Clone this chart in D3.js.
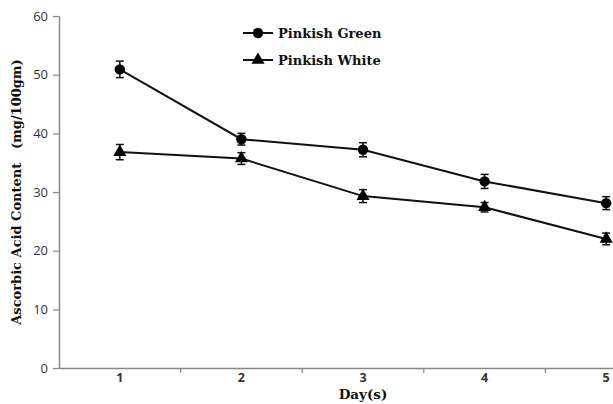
<!DOCTYPE html>
<html><head><meta charset="utf-8">
<script src="https://cdn.jsdelivr.net/npm/d3@7"></script>
<style>body{margin:0;background:#fff}</style>
</head><body>
<svg id="c" width="613" height="404"></svg>
<script>
const days = [1, 2, 3, 4, 5];
const seriesNames = ["Pinkish Green", "Pinkish White"];
const greenValues = [50.9, 39.0, 37.2, 31.8, 28.1];
const greenErrors = [1.4, 1.0, 1.2, 1.2, 1.1];
const whiteValues = [36.8, 35.7, 29.3, 27.4, 22.0];
const whiteErrors = [1.3, 1.0, 1.1, 0.8, 1.0];
const yTicks = [0, 10, 20, 30, 40, 50, 60];

(function () {
const svg = d3.select("#c");
const mLeft = 59, mTop = 16, mBottom = 368, mRight = 667;
const x = d3.scaleBand().domain(days).range([mLeft, mRight]);
const y = d3.scaleLinear().domain([0, 60]).range([mBottom, mTop]);
const axisColor = "#888";
const serif = "DejaVu Serif, serif";

// Y axis
const ya = svg.append("g").attr("transform", `translate(${mLeft},0)`)
  .call(d3.axisLeft(y).tickValues(yTicks).tickSize(6).tickPadding(5).tickSizeOuter(0));
ya.select(".domain").attr("stroke", axisColor).attr("stroke-width", 1.5);
ya.selectAll(".tick line").attr("stroke", axisColor).attr("stroke-width", 1.2);
ya.selectAll(".tick text").attr("font-family", "Open Sans, sans-serif").attr("font-size", 13).attr("fill", "#333");

// X axis
const xa = svg.append("g").attr("transform", `translate(0,${mBottom})`)
  .call(d3.axisBottom(x).tickSize(0).tickPadding(5));
xa.select(".domain").attr("stroke", axisColor).attr("stroke-width", 1.5);
xa.selectAll(".tick text").attr("font-family", "Open Sans, sans-serif").attr("font-size", 12.5).attr("fill", "#333").attr("font-weight", "bold");
xa.selectAll(".btick").data(days.slice(1)).enter().append("line")
  .attr("x1", d => x(d)).attr("x2", d => x(d)).attr("y1", 0).attr("y2", 5)
  .attr("stroke", axisColor).attr("stroke-width", 1.2);

const cx = d => x(d) + x.bandwidth() / 2;

function drawSeries(vals, errs, shape) {
  const g = svg.append("g");
  const line = d3.line().x((d, i) => cx(days[i])).y(d => y(d));
  g.append("path").attr("d", line(vals)).attr("fill", "none").attr("stroke", "#111").attr("stroke-width", 2);
  vals.forEach((v, i) => {
    const px = cx(days[i]);
    const e = errs[i];
    g.append("line").attr("x1", px).attr("x2", px).attr("y1", y(v + e)).attr("y2", y(v - e)).attr("stroke", "#111").attr("stroke-width", 1.5);
    [v + e, v - e].forEach(w => g.append("line").attr("x1", px - 4).attr("x2", px + 4).attr("y1", y(w)).attr("y2", y(w)).attr("stroke", "#111").attr("stroke-width", 1.5));
    g.append("path").attr("transform", `translate(${px},${y(v)})`)
      .attr("d", d3.symbol().type(shape).size(shape === d3.symbolCircle ? 85 : 75)()).attr("fill", "#000");
  });
}
drawSeries(greenValues, greenErrors, d3.symbolCircle);
drawSeries(whiteValues, whiteErrors, d3.symbolTriangle);

// Legend
const legend = svg.append("g");
[[d3.symbolCircle, 85], [d3.symbolTriangle, 75]].forEach((s, i) => {
  const ly = 33 + i * 27;
  legend.append("line").attr("x1", 243).attr("x2", 273).attr("y1", ly).attr("y2", ly).attr("stroke", "#111").attr("stroke-width", 2);
  legend.append("path").attr("transform", `translate(258,${ly})`).attr("d", d3.symbol().type(s[0]).size(s[1])()).attr("fill", "#000");
  legend.append("text").attr("x", 278).attr("y", ly + 4.5).text(seriesNames[i])
    .attr("font-family", serif).attr("font-weight", "bold").attr("font-size", 13).attr("fill", "#111");
});

// Axis titles
svg.append("text").attr("transform", "translate(21,192) rotate(-90)").attr("text-anchor", "middle")
  .attr("font-family", serif).attr("font-weight", "bold").attr("font-size", 13).attr("fill", "#111")
  .style("white-space", "pre")
  .text("Ascorbic Acid Content   (mg/100gm)");
svg.append("text").attr("x", 363).attr("y", 399).attr("text-anchor", "middle")
  .attr("font-family", serif).attr("font-weight", "bold").attr("font-size", 13.5).attr("fill", "#111")
  .text("Day(s)");
})();
</script>
</body></html>
